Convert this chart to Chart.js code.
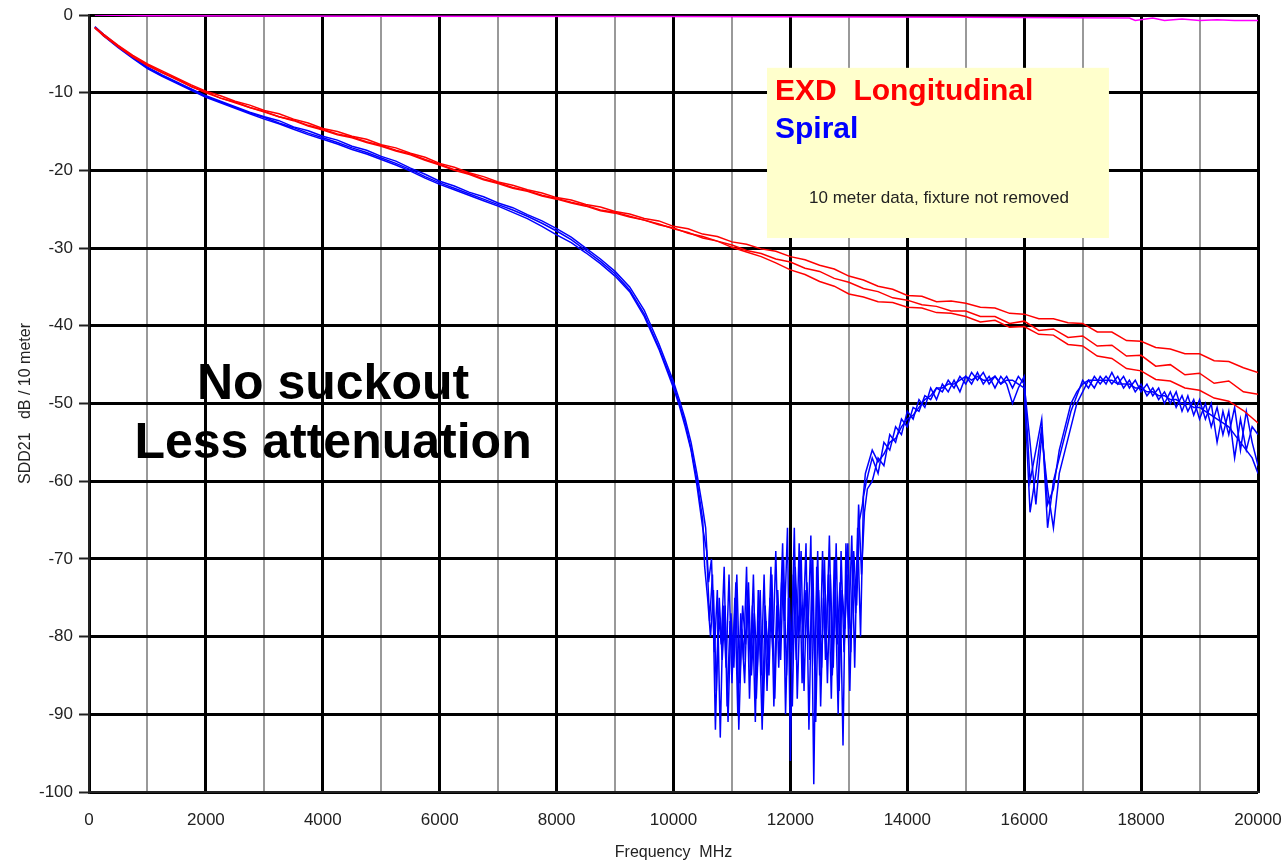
<!DOCTYPE html>
<html>
<head>
<meta charset="utf-8">
<title>SDD21 - EXD Longitudinal vs Spiral</title>
<script src="https://cdn.jsdelivr.net/npm/chart.js@4.4.0/dist/chart.umd.min.js"></script>
<style>
    html, body { margin: 0; padding: 0; background: #fff; }
    canvas { display: block; }
</style>
</head>
<body>
<canvas id="grafica" width="1287" height="862"></canvas>
<script>
// Barrido de frecuencia (MHz) en pasos uniformes
function barrido(inicio, fin, paso) {
    let lista = [];
    for (let f = inicio; f <= fin; f += paso) {
        lista.push(f);
    }
    return lista;
}

// Ejes
const ticksX = [0, 2000, 4000, 6000, 8000, 10000, 12000, 14000, 16000, 18000, 20000];
const ticksY = [0, -10, -20, -30, -40, -50, -60, -70, -80, -90, -100];

// EXD Longitudinal (3 medidas), pasos de 250 MHz
const freqLong = [100].concat(barrido(250, 20000, 250));
const long1 = [
    -1.6, -2.5, -3.9, -5.2, -6.3, -7.2, -8.1, -9.0, -9.8, -10.4,
    -11.1, -11.6, -12.3, -12.7, -13.4, -13.9, -14.6, -15.0, -15.6, -16.0,
    -16.7, -17.1, -17.8, -18.3, -19.1, -19.6, -20.3, -20.8, -21.5, -21.9,
    -22.5, -22.9, -23.5, -23.8, -24.4, -24.7, -25.3, -25.6, -26.2, -26.5,
    -27.2, -27.5, -28.2, -28.5, -29.2, -29.5, -30.1, -30.4, -31.1, -31.5,
    -32.2, -32.7, -33.6, -34.1, -34.9, -35.3, -36.1, -36.2, -36.9, -36.8,
    -37.1, -37.6, -37.7, -38.4, -38.5, -39.1, -39.1, -39.6, -39.7, -40.8,
    -40.8, -41.9, -42.0, -42.8, -43.0, -43.6, -43.6, -44.5, -44.6, -45.4,
    -46.0
];
const long2 = [
    -1.7, -2.6, -4.1, -5.4, -6.5, -7.4, -8.3, -9.2, -10.0, -10.7,
    -11.3, -11.9, -12.5, -13.1, -13.6, -14.3, -14.8, -15.4, -15.8, -16.4,
    -16.9, -17.5, -18.0, -18.7, -19.3, -20.0, -20.5, -21.2, -21.7, -22.3,
    -22.7, -23.3, -23.7, -24.2, -24.6, -25.2, -25.5, -26.0, -26.4, -27.0,
    -27.4, -28.1, -28.5, -29.1, -29.6, -30.3, -30.7, -31.4, -31.8, -32.6,
    -33.0, -33.9, -34.4, -35.2, -35.6, -36.4, -36.7, -37.3, -37.5, -38.1,
    -38.1, -38.8, -38.8, -39.7, -39.4, -40.6, -40.4, -41.5, -41.3, -42.6,
    -42.5, -43.9, -43.8, -45.2, -45.0, -46.3, -46.1, -47.4, -47.1, -48.5,
    -48.8
];
const long3 = [
    -1.6, -2.7, -4.0, -5.4, -6.4, -7.4, -8.2, -9.2, -9.9, -10.7,
    -11.2, -11.9, -12.4, -13.1, -13.5, -14.2, -14.7, -15.3, -15.7, -16.3,
    -16.8, -17.4, -17.9, -18.6, -19.2, -19.9, -20.4, -21.1, -21.6, -22.2,
    -22.6, -23.2, -23.6, -24.1, -24.5, -25.1, -25.4, -25.9, -26.4, -26.9,
    -27.5, -28.0, -28.7, -29.1, -29.9, -30.5, -31.1, -31.9, -32.8, -33.4,
    -34.3, -34.9, -35.9, -36.3, -36.9, -37.0, -37.6, -37.7, -38.3, -38.4,
    -38.8, -39.5, -39.3, -40.2, -40.1, -41.1, -41.2, -42.4, -42.6, -43.9,
    -44.2, -45.5, -45.8, -46.9, -47.1, -48.0, -48.3, -49.3, -49.7, -50.9,
    -52.5
];

// Spiral (3 medidas) en tres tramos: caida, suckout y recuperacion
const freqEspiralBaja = [100].concat(barrido(250, 10000, 250), barrido(10100, 10500, 100));
// las tres medidas del suckout no caen en los mismos puntos del barrido
const freqHueco1 = barrido(10550, 13300, 50);
const freqHueco2 = barrido(10567, 13317, 50);
const freqHueco3 = barrido(10533, 13283, 50);
const freqEspiralAlta = barrido(13400, 20000, 100);

const espiral1Baja = [
    -1.5, -2.5, -4.0, -5.4, -6.7, -7.7, -8.6, -9.5, -10.4, -11.1,
    -11.8, -12.5, -13.1, -13.6, -14.4, -14.9, -15.6, -16.1, -16.9, -17.4,
    -18.2, -18.8, -19.7, -20.5, -21.4, -22.0, -22.8, -23.4, -24.2, -24.8,
    -25.7, -26.5, -27.5, -28.6, -30.0, -31.4, -33.0, -35.0, -38.0, -42.3,
    -47.2, -49.5, -52.0, -55.0, -59.0, -63.5
];
const espiral2Baja = [
    -1.6, -2.7, -4.2, -5.6, -6.9, -7.9, -8.8, -9.7, -10.6, -11.3,
    -12.0, -12.7, -13.4, -14.0, -14.7, -15.4, -16.0, -16.6, -17.3, -17.9,
    -18.6, -19.3, -20.1, -21.0, -21.8, -22.5, -23.2, -23.9, -24.6, -25.4,
    -26.2, -27.2, -28.3, -29.3, -30.6, -32.0, -33.6, -35.6, -38.8, -43.0,
    -48.0, -50.3, -53.0, -56.0, -60.5, -66.0
];
const espiral3Baja = [
    -1.6, -2.6, -4.1, -5.5, -6.8, -7.8, -8.7, -9.6, -10.5, -11.2,
    -11.9, -12.6, -13.2, -13.9, -14.5, -15.2, -15.8, -16.4, -17.1, -17.7,
    -18.4, -19.1, -19.9, -20.8, -21.6, -22.3, -23.0, -23.7, -24.4, -25.1,
    -25.9, -26.8, -27.8, -28.9, -30.3, -31.7, -33.3, -35.4, -38.5, -42.8,
    -47.6, -50.0, -52.5, -55.8, -59.8, -65.0
];

const espiral1Hueco = [
    -66, -73, -70, -82, -74, -93, -76, -84, -72, -86,
    -75, -90, -77, -83, -71, -88, -76, -91, -74, -85,
    -72, -87, -75, -82, -69, -84, -73, -78, -66, -96,
    -72, -83, -68, -86, -74, -80, -67, -99, -71, -85,
    -69, -83, -72, -88, -70, -81, -73, -94, -68, -79,
    -67, -84, -66, -80, -62, -60
];
const espiral2Hueco = [
    -69, -78, -72, -92, -77, -81, -71, -89, -78, -83,
    -73, -92, -79, -86, -74, -84, -72, -88, -78, -92,
    -76, -83, -71, -89, -76, -80, -68, -90, -75, -82,
    -66, -88, -75, -79, -68, -92, -73, -84, -69, -89,
    -75, -80, -67, -85, -74, -90, -69, -82, -72, -87,
    -70, -77, -63, -72, -64, -61
];
const espiral3Hueco = [
    -71, -75, -80, -74, -87, -75, -83, -76, -91, -77,
    -84, -72, -86, -76, -81, -73, -85, -77, -84, -74,
    -90, -78, -85, -72, -88, -74, -83, -70, -85, -75,
    -89, -71, -80, -69, -87, -73, -83, -70, -91, -74,
    -84, -70, -86, -72, -84, -68, -87, -74, -79, -68,
    -82, -69, -76, -65, -63, -59
];

const espiral1Alta = [
    -57, -59, -55, -56, -53, -54, -51, -52, -49.5, -50.5,
    -48, -49.5, -47.5, -48.5, -47, -48.5, -46.5, -47.5, -46, -47.5,
    -46.5, -48, -46.5, -47.5, -50, -48, -46.5, -60, -56, -52,
    -66, -60, -57, -54, -51, -49, -47, -48, -46.5, -47.5,
    -46.5, -47.5, -46.5, -48, -47, -48.5, -47.5, -49, -48, -49.5,
    -48.5, -50, -48.5, -51, -49, -51.5, -49.5, -52, -50, -55,
    -51, -54, -50.5, -56, -51, -55, -58
];
const espiral2Alta = [
    -60, -57, -58, -54, -55, -52, -53, -50.5, -51, -49,
    -49.5, -48, -48.5, -47, -48, -46.5, -47.5, -46, -47, -46,
    -47.5, -46.5, -47.5, -46.5, -48, -46.5, -47.5, -55, -63, -54,
    -61, -66, -59, -56, -53, -50, -48.5, -47, -48, -46.5,
    -47.5, -46, -47.5, -46.5, -48, -47, -48.5, -47.5, -49, -48,
    -50, -48.5, -50.5, -49, -51, -49.5, -52, -50, -53, -50.5,
    -54, -51, -57, -52, -56, -53, -54
];
const espiral3Alta = [
    -56, -57.5, -56.5, -55, -54.5, -53, -52, -51.5, -50.5, -49.5,
    -49, -48, -48, -47.5, -47.5, -47, -46.5, -47, -46.5, -47,
    -47, -46.5, -47.5, -47, -47, -47.5, -48, -64, -59, -53,
    -63, -61, -56, -53, -50, -48.5, -47.5, -47, -47, -47,
    -47, -47, -47.5, -47.5, -47.5, -48, -48, -48.5, -48.5, -49,
    -49, -49.5, -49.5, -50, -50, -50.5, -50.5, -51, -51.5, -52,
    -52.5, -53, -54, -55, -56, -57, -59
];

// Referencia (thru) casi en 0 dB
const freqThru = [100, 1000, 5000, 10000, 15000, 17800, 17900, 18200, 18400, 18700, 19000, 19300, 19600, 20000];
const thru = [0, -0.1, -0.15, -0.2, -0.3, -0.4, -0.7, -0.4, -0.7, -0.5, -0.7, -0.6, -0.7, -0.7];

// Textos y su posicion en unidades del grafico (MHz, dB)
const cuadroFreq = [11600, 17450];
const cuadroDb = [-6.8, -28.7];
const textosCuadro = ['EXD  Longitudinal', 'Spiral', '10 meter data, fixture not removed'];
const textosGrandes = ['No suckout', 'Less attenuation'];

const fuente = "'Liberation Sans', Arial, sans-serif";

function puntos(freqs, valores) {
    return freqs.map(function (f, i) {
        return { x: f, y: valores[i] };
    });
}

function serie(datos, color) {
    return {
        data: datos,
        borderColor: color,
        backgroundColor: color,
        borderWidth: 1.5,
        pointRadius: 0,
        fill: false,
        tension: 0
    };
}

const espiral1 = puntos(freqEspiralBaja, espiral1Baja)
    .concat(puntos(freqHueco1, espiral1Hueco), puntos(freqEspiralAlta, espiral1Alta));
const espiral2 = puntos(freqEspiralBaja, espiral2Baja)
    .concat(puntos(freqHueco2, espiral2Hueco), puntos(freqEspiralAlta, espiral2Alta));
const espiral3 = puntos(freqEspiralBaja, espiral3Baja)
    .concat(puntos(freqHueco3, espiral3Hueco), puntos(freqEspiralAlta, espiral3Alta));

// Cuadro amarillo y textos grandes
const notas = {
    id: 'notas',
    beforeDatasetsDraw(chart) {
        const ctx = chart.ctx;
        const x = chart.scales.x;
        const y = chart.scales.y;
        ctx.save();

        let x0 = x.getPixelForValue(cuadroFreq[0]);
        let x1 = x.getPixelForValue(cuadroFreq[1]);
        let y0 = y.getPixelForValue(cuadroDb[0]);
        let y1 = y.getPixelForValue(cuadroDb[1]);
        ctx.fillStyle = '#ffffcc';
        ctx.fillRect(x0, y0, x1 - x0, y1 - y0);

        ctx.textBaseline = 'alphabetic';
        ctx.textAlign = 'left';
        ctx.font = 'bold 30px ' + fuente;
        ctx.fillStyle = '#ff0000';
        ctx.fillText(textosCuadro[0], x.getPixelForValue(11737), y.getPixelForValue(-10.9));
        ctx.fillStyle = '#0000ff';
        ctx.fillText(textosCuadro[1], x.getPixelForValue(11737), y.getPixelForValue(-15.8));

        ctx.textAlign = 'center';
        ctx.font = '17px ' + fuente;
        ctx.fillStyle = '#222';
        ctx.fillText(textosCuadro[2], x.getPixelForValue(14542), y.getPixelForValue(-24.2));

        ctx.font = 'bold 50px ' + fuente;
        ctx.fillStyle = '#000';
        ctx.textBaseline = 'middle';
        ctx.fillText(textosGrandes[0], x.getPixelForValue(4175), y.getPixelForValue(-47.6));
        ctx.fillText(textosGrandes[1], x.getPixelForValue(4175), y.getPixelForValue(-55.3));

        ctx.restore();
    }
};

new Chart(document.getElementById('grafica').getContext('2d'), {
    type: 'line',
    data: {
        datasets: [
            serie(puntos(freqThru, thru), '#ff00ff'),
            serie(puntos(freqLong, long1), '#ff0000'),
            serie(puntos(freqLong, long2), '#ff0000'),
            serie(puntos(freqLong, long3), '#ff0000'),
            serie(espiral1, '#0000ff'),
            serie(espiral2, '#0000ff'),
            serie(espiral3, '#0000ff')
        ]
    },
    options: {
        responsive: false,
        animation: false,
        events: [],
        layout: {
            padding: { top: 15, right: 29, left: 0, bottom: 0 }
        },
        plugins: {
            legend: { display: false },
            tooltip: { enabled: false }
        },
        scales: {
            x: {
                type: 'linear',
                min: ticksX[0],
                max: ticksX[ticksX.length - 1],
                ticks: {
                    stepSize: 1000,
                    autoSkip: false,
                    maxRotation: 0,
                    padding: 2,
                    color: '#222',
                    font: { size: 17, family: fuente },
                    callback: function (valor) {
                        return ticksX.includes(valor) ? String(valor) : '';
                    }
                },
                grid: {
                    drawTicks: true,
                    tickLength: 16,
                    tickColor: 'rgba(0,0,0,0)',
                    color: function (c) {
                        return c.tick && ticksX.includes(c.tick.value) ? '#000' : '#999';
                    },
                    lineWidth: function (c) {
                        return c.tick && ticksX.includes(c.tick.value) ? 3 : 2;
                    }
                },
                border: { color: '#222', width: 2 },
                title: {
                    display: true,
                    text: 'Frequency  MHz',
                    color: '#222',
                    font: { size: 16, family: fuente },
                    padding: { top: 0, bottom: 0 }
                },
                afterFit: function (escala) {
                    escala.height = 70;
                }
            },
            y: {
                min: ticksY[ticksY.length - 1],
                max: ticksY[0],
                ticks: {
                    stepSize: 10,
                    padding: 6,
                    color: '#222',
                    font: { size: 17, family: fuente, lineHeight: 1 }
                },
                grid: {
                    color: '#000',
                    lineWidth: 3,
                    tickLength: 10,
                    tickColor: '#222',
                    tickWidth: 2
                },
                border: { color: '#222', width: 2 },
                title: {
                    display: true,
                    text: 'SDD21   dB / 10 meter',
                    color: '#222',
                    font: { size: 16, family: fuente },
                    padding: { top: 16, bottom: 0 }
                },
                afterFit: function (escala) {
                    escala.width = 89;
                }
            }
        }
    },
    plugins: [notas]
});
</script>
</body>
</html>
